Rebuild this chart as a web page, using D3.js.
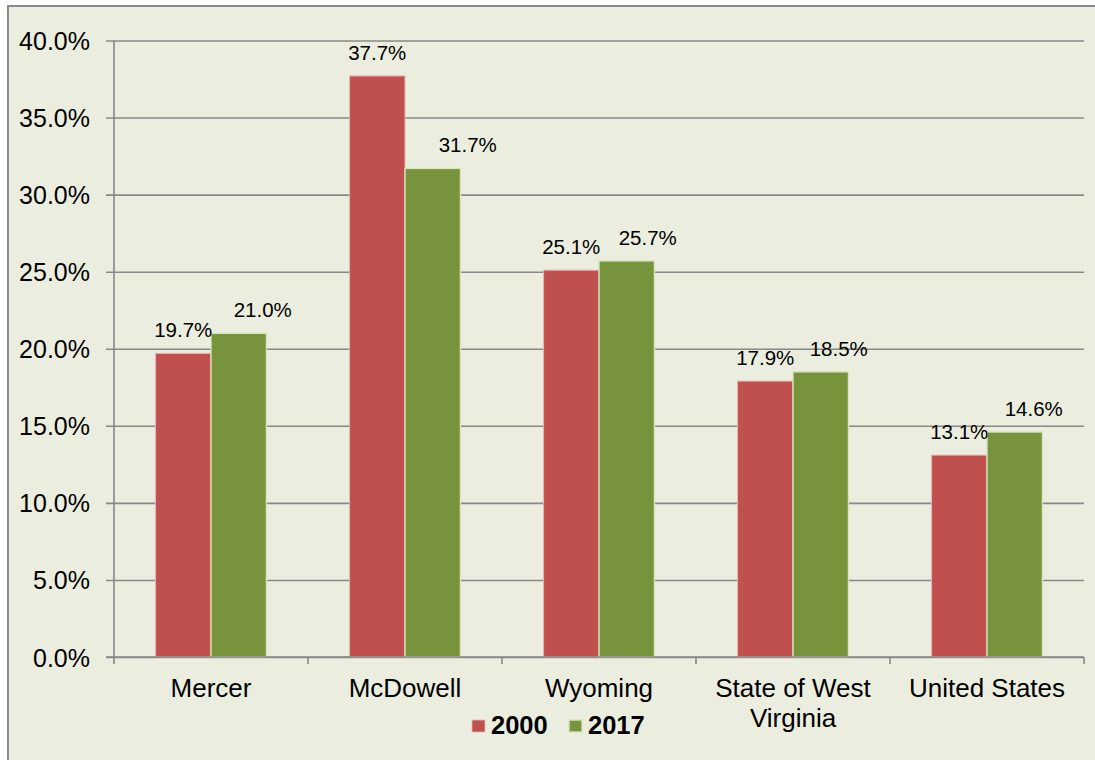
<!DOCTYPE html>
<html>
<head>
<meta charset="utf-8">
<script src="https://cdn.jsdelivr.net/npm/d3@7"></script>
<style>
  html, body { margin: 0; padding: 0; background: #ffffff; }
  svg { display: block; }
  text { font-family: "Liberation Sans", Arial, sans-serif; fill: #000; }
</style>
</head>
<body>
<svg id="chart" width="1095" height="760"></svg>
<script>
// Poverty rate by area, 2000 vs 2017
const categories = ["Mercer", "McDowell", "Wyoming", "State of West Virginia", "United States"];
const seriesNames = ["2000", "2017"];
const values2000 = [19.7, 37.7, 25.1, 17.9, 13.1];
const values2017 = [21.0, 31.7, 25.7, 18.5, 14.6];
const yTicks = [0, 5, 10, 15, 20, 25, 30, 35, 40];

// horizontal nudges for the 2017 value labels (px), so they clear neighbouring labels
const labelNudge2017 = [24, 35, 21, 18, 19];

const colors = { "2000": "#C0504D", "2017": "#77933C" };
const strokes = { "2000": "#e3b7b5", "2017": "#d7e4bd" };

const svg = d3.select("#chart");
const W = 1095, H = 760;

// chart area with border
svg.append("rect")
  .attr("x", 8).attr("y", 6)
  .attr("width", W).attr("height", H)
  .attr("fill", "#ebeedf")
  .attr("stroke", "#8a8a8a")
  .attr("stroke-width", 2);

const plot = { left: 114, right: 1084, top: 40.5, bottom: 657 };

const x = d3.scaleBand()
  .domain(categories)
  .range([plot.left, plot.right])
  .paddingInner(0).paddingOuter(0);

const xs = d3.scaleBand()
  .domain(seriesNames)
  .range([0, x.bandwidth()])
  .paddingInner(0)
  .paddingOuter(0.75);

const y = d3.scaleLinear().domain([0, 40]).range([plot.bottom, plot.top]);

// gridlines + y ticks
const yAxis = d3.axisLeft(y)
  .tickValues(yTicks)
  .tickSize(-(plot.right - plot.left))
  .tickSizeOuter(0)
  .tickPadding(0)
  .tickFormat(d => d.toFixed(1) + "%");

const gy = svg.append("g")
  .attr("transform", `translate(${plot.left},0)`)
  .call(yAxis);
gy.select(".domain").remove();
gy.selectAll(".tick line")
  .attr("x1", -8)
  .attr("stroke", "#888888")
  .attr("stroke-width", 1.6);
gy.selectAll(".tick text")
  .attr("x", -24)
  .attr("dy", "0.36em")
  .attr("text-anchor", "end")
  .style("font-size", "25px");
gy.attr("font-size", null).attr("font-family", null);

// vertical axis line
svg.append("line")
  .attr("x1", plot.left).attr("x2", plot.left)
  .attr("y1", y(40)).attr("y2", plot.bottom)
  .attr("stroke", "#888888").attr("stroke-width", 1.6);

// bars
const rows = categories.map((c, i) => ({
  cat: c, i,
  vals: [
    { key: "2000", v: values2000[i], nudge: 0 },
    { key: "2017", v: values2017[i], nudge: labelNudge2017[i] }
  ]
}));

const groups = svg.append("g").selectAll("g.cat")
  .data(rows).join("g")
  .attr("class", "cat")
  .attr("transform", d => `translate(${x(d.cat)},0)`);

groups.selectAll("rect")
  .data(d => d.vals).join("rect")
  .attr("x", d => xs(d.key))
  .attr("y", d => y(d.v))
  .attr("width", xs.bandwidth())
  .attr("height", d => y(0) - y(d.v))
  .attr("fill", d => colors[d.key])
  .attr("stroke", d => strokes[d.key])
  .attr("stroke-width", d => d.key === "2017" ? 1.4 : 1);

// value labels
groups.selectAll("text.lbl")
  .data(d => d.vals).join("text")
  .attr("class", "lbl")
  .attr("x", d => xs(d.key) + xs.bandwidth() / 2 + d.nudge)
  .attr("y", d => y(d.v) - 16)
  .attr("text-anchor", "middle")
  .style("font-size", "20.5px")
  .text(d => d.v.toFixed(1) + "%");

// x axis line and boundary ticks
svg.append("line")
  .attr("x1", plot.left - 8).attr("x2", plot.right)
  .attr("y1", plot.bottom).attr("y2", plot.bottom)
  .attr("stroke", "#888888").attr("stroke-width", 1.6);

const boundaries = categories.map(c => x(c)).concat([plot.right]);
svg.append("g").selectAll("line")
  .data(boundaries).join("line")
  .attr("x1", d => d).attr("x2", d => d)
  .attr("y1", plot.bottom).attr("y2", plot.bottom + 7)
  .attr("stroke", "#888888").attr("stroke-width", 1.6);

// category labels, wrapped to the band width
const catLabels = svg.append("g");
categories.forEach(c => {
  const cx = x(c) + x.bandwidth() / 2;
  const t = catLabels.append("text")
    .attr("text-anchor", "middle")
    .attr("x", cx)
    .attr("y", 697)
    .style("font-size", "26px");
  const words = c.split(" ");
  let line = [], lines = [];
  const probe = t.append("tspan");
  words.forEach(w => {
    const test = line.concat([w]).join(" ");
    probe.text(test);
    if (probe.node().getComputedTextLength() > x.bandwidth() - 16 && line.length) {
      lines.push(line.join(" "));
      line = [w];
    } else {
      line.push(w);
    }
  });
  lines.push(line.join(" "));
  probe.remove();
  lines.forEach((l, k) => {
    t.append("tspan")
      .attr("x", cx)
      .attr("dy", k === 0 ? 0 : 30)
      .text(l);
  });
});

// legend
const legend = svg.append("g");
const legendItems = [
  { key: "2000", x: 472 },
  { key: "2017", x: 569 }
];
legendItems.forEach(it => {
  legend.append("rect")
    .attr("x", it.x).attr("y", 720)
    .attr("width", 13).attr("height", 12)
    .attr("fill", colors[it.key])
    .attr("stroke", strokes[it.key])
    .attr("stroke-width", it.key === "2017" ? 1.4 : 0.8);
  legend.append("text")
    .attr("x", it.x + 19).attr("y", 734)
    .style("font-size", "25.5px")
    .style("font-weight", "bold")
    .text(it.key);
});
</script>
</body>
</html>
